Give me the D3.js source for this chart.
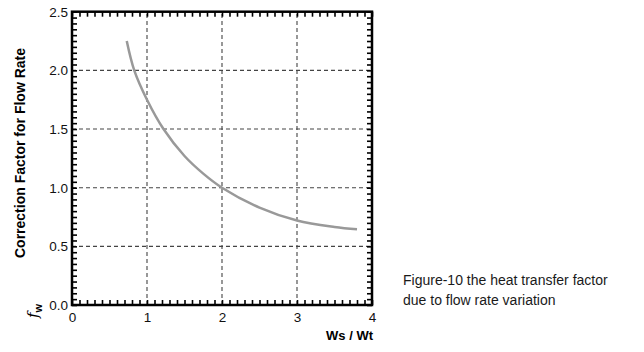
<!DOCTYPE html>
<html>
<head>
<meta charset="utf-8">
<script src="https://cdn.jsdelivr.net/npm/d3@7"></script>
<style>
  body { margin: 0; background: #fff; }
  svg { display: block; font-family: "Liberation Sans", Arial, sans-serif; }
</style>
</head>
<body>
<svg id="chart" width="644" height="352"></svg>
<script>
// curve
const ratio = [0.73, 0.83, 1.0, 1.22, 1.5, 1.75, 2.0, 2.5, 3.0, 3.5, 3.8];
const factor = [2.25, 2.0, 1.75, 1.5, 1.27, 1.12, 1.0, 0.83, 0.72, 0.665, 0.645];

const xTicks = [0, 1, 2, 3, 4];
const yTicks = [0, 0.5, 1.0, 1.5, 2.0, 2.5];
const xMinor = d3.range(0, 41).map(i => i / 10);
const yMinor = d3.range(0, 51).map(i => i / 20);

const captionLines = ["Figure-10 the heat transfer factor", "due to flow rate variation"];

const svg = d3.select("#chart");
const x = d3.scaleLinear([0, 4], [72, 372]);
const y = d3.scaleLinear([0, 2.5], [305, 11.7]);

// dashed grid
svg.append("g").selectAll("line").data(xTicks.slice(1, -1)).join("line")
    .attr("x1", d => x(d)).attr("x2", d => x(d))
    .attr("y1", y(0)).attr("y2", y(2.5))
    .attr("stroke", "#444").attr("stroke-width", 1.1).attr("stroke-dasharray", "4,3");
svg.append("g").selectAll("line").data(yTicks.slice(1, -1)).join("line")
    .attr("y1", d => y(d)).attr("y2", d => y(d))
    .attr("x1", x(0)).attr("x2", x(4))
    .attr("stroke", "#444").attr("stroke-width", 1.1).attr("stroke-dasharray", "4,3");

// minor ticks, inward on all four sides
const tickLen = 5;
function minorAxis(axis, transform, inward){
    const g = svg.append("g").attr("transform", transform)
        .call(axis.tickSize(0).tickFormat(""));
    g.select(".domain").remove();
    g.selectAll(".tick line").attr(inward[0], inward[1]).attr("stroke", "#000").attr("stroke-width", 1.6);
}
minorAxis(d3.axisBottom(x).tickValues(xMinor), `translate(0,${y(0)})`, ["y2", -tickLen]);
minorAxis(d3.axisTop(x).tickValues(xMinor), `translate(0,${y(2.5)})`, ["y2", tickLen]);
minorAxis(d3.axisLeft(y).tickValues(yMinor), `translate(${x(0)},0)`, ["x2", tickLen]);
minorAxis(d3.axisRight(y).tickValues(yMinor), `translate(${x(4)},0)`, ["x2", -tickLen]);

// labels
const xLab = svg.append("g").attr("transform", `translate(0,${y(0)})`)
    .call(d3.axisBottom(x).tickValues(xTicks).tickSize(0).tickPadding(7).tickFormat(d3.format("d")));
xLab.select(".domain").remove();
xLab.selectAll("text").attr("font-size", 13.5).attr("fill", "#111").attr("font-family", "Liberation Sans, Arial, sans-serif");

const yLab = svg.append("g").attr("transform", `translate(${x(0)},0)`)
    .call(d3.axisLeft(y).tickValues(yTicks).tickSize(0).tickPadding(4).tickFormat(d3.format(".1f")));
yLab.select(".domain").remove();
yLab.selectAll("text").attr("font-size", 13.5).attr("fill", "#111").attr("font-family", "Liberation Sans, Arial, sans-serif");

// frame
svg.append("rect")
    .attr("x", x(0)).attr("y", y(2.5))
    .attr("width", x(4) - x(0)).attr("height", y(0) - y(2.5))
    .attr("fill", "none").attr("stroke", "#000").attr("stroke-width", 2.5);

// curve
const pts = ratio.map((r, i) => [r, factor[i]]);
svg.append("path")
    .datum(pts)
    .attr("fill", "none")
    .attr("stroke", "#999")
    .attr("stroke-width", 2.5)
    .attr("d", d3.line().x(d => x(d[0])).y(d => y(d[1])).curve(d3.curveCatmullRom));

// axis titles
svg.append("text")
    .attr("transform", "translate(25,153) rotate(-90)")
    .attr("text-anchor", "middle")
    .attr("font-size", 14).attr("font-weight", "bold")
    .text("Correction Factor for Flow Rate");

const fw = svg.append("text")
    .attr("transform", "translate(38,318) rotate(-90)")
    .attr("text-anchor", "start");
fw.append("tspan").attr("font-family", "DejaVu Serif, serif").attr("font-style", "italic").attr("font-size", 15).text("f");
fw.append("tspan").attr("font-weight", "bold").attr("font-size", 11).attr("dy", 4).text("w");

svg.append("text")
    .attr("x", 373).attr("y", 340)
    .attr("text-anchor", "end")
    .attr("font-size", 13).attr("font-weight", "bold")
    .text("Ws / Wt");

// caption
svg.append("g").selectAll("text").data(captionLines).join("text")
    .attr("x", 403).attr("y", (d, i) => 285 + i * 20)
    .attr("font-size", 14).attr("fill", "#1a1a1a")
    .text(d => d);
</script>
</body>
</html>
